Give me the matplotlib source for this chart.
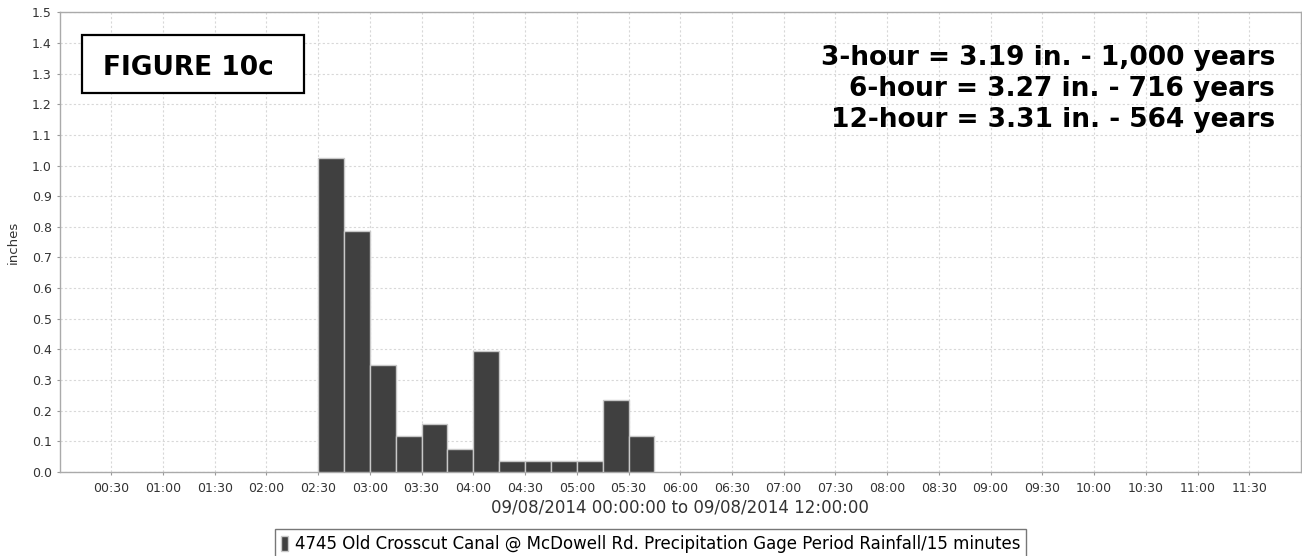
import numpy as np
import matplotlib
matplotlib.use('Agg')
import matplotlib.pyplot as plt
from matplotlib.patches import Patch, Rectangle

# --- data (15-minute rainfall, inches) ---
bar_starts = ['02:30', '02:45', '03:00', '03:15', '03:30', '03:45', '04:00',
              '04:15', '04:30', '04:45', '05:00', '05:15', '05:30']
rain_in = [1.023, 0.786, 0.350, 0.118, 0.157, 0.074, 0.394,
           0.036, 0.036, 0.036, 0.036, 0.234, 0.118]

tick_labels = ['00:30', '01:00', '01:30', '02:00', '02:30', '03:00', '03:30',
               '04:00', '04:30', '05:00', '05:30', '06:00', '06:30', '07:00',
               '07:30', '08:00', '08:30', '09:00', '09:30', '10:00', '10:30',
               '11:00', '11:30']

freq_lines = ['3-hour = 3.19 in. - 1,000 years',
              '6-hour = 3.27 in. - 716 years',
              '12-hour = 3.31 in. - 564 years']

legend_label = '4745 Old Crosscut Canal @ McDowell Rd. Precipitation Gage Period Rainfall/15 minutes'


def to_hours(s):
    h, m = s.split(':')
    return int(h) + int(m) / 60.0


x_bars = [to_hours(s) for s in bar_starts]
x_ticks = [to_hours(s) for s in tick_labels]

fig = plt.figure(figsize=(13.02, 5.56), dpi=100)
ax = fig.add_axes([0.0457, 0.151, 0.9535, 0.827])

bar_color = '#404040'
ax.bar(x_bars, rain_in, width=0.25, align='edge', color=bar_color,
       edgecolor='#c8c8c8', linewidth=1.0, zorder=3)

ax.set_xlim(0, 12)
ax.set_ylim(0, 1.5)
ax.set_xticks(x_ticks)
ax.set_xticklabels(tick_labels)
ax.set_yticks(np.arange(0, 1.51, 0.1))
ax.set_yticklabels([f'{v:.1f}' for v in np.arange(0, 1.51, 0.1)])
ax.tick_params(axis='both', labelsize=9, length=2, color='#999999',
               labelcolor='#333333')
ax.tick_params(axis='x', pad=5)

ax.grid(True, color='#d8d8d8', linestyle=(0, (2, 2)), linewidth=0.8, zorder=0)
for side in ['top', 'right', 'left', 'bottom']:
    ax.spines[side].set_color('#aaaaaa')
    ax.spines[side].set_linewidth(1.0)

ax.set_ylabel('inches', fontsize=9.5, color='#333333', labelpad=9)
ax.set_xlabel('09/08/2014 00:00:00 to 09/08/2014 12:00:00', fontsize=12,
              color='#333333', labelpad=3)

# figure label box
ax.add_patch(Rectangle((0.2175, 1.236), 2.1455, 0.189, facecolor='white',
                       edgecolor='black', linewidth=1.6, zorder=5))
ax.text(1.242, 1.294, 'FIGURE 10c', fontsize=19, fontweight='bold',
        ha='center', va='baseline', zorder=6)

# return-period annotation
baselines = [1.327, 1.226, 1.125]
for line, yb in zip(freq_lines, baselines):
    ax.text(11.75, yb, line, fontsize=19, fontweight='bold',
            ha='right', va='baseline', zorder=5)

handle = Patch(facecolor=bar_color, edgecolor='#c8c8c8')
fig.legend([handle], [legend_label], loc='center',
           bbox_to_anchor=(0.4995, 0.022), fontsize=12, frameon=True,
           fancybox=False, edgecolor='#555555', handlelength=0.45,
           handleheight=1.0, handletextpad=0.4, borderpad=0.35)

fig.savefig('out.png', dpi=100)
